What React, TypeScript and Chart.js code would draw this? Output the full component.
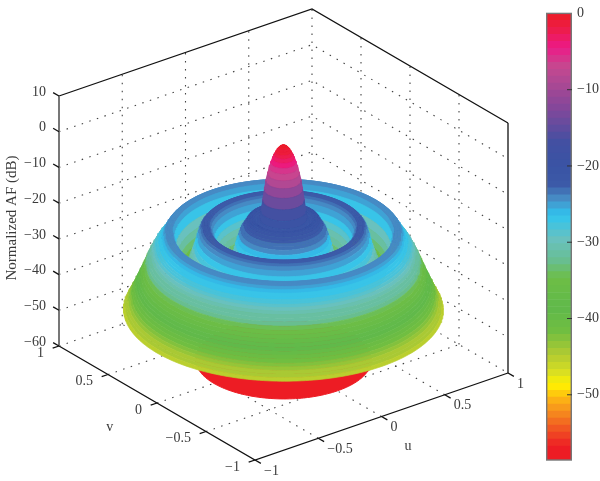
import React, { useEffect, useRef } from "react";
import { Chart, registerables } from "chart.js";

Chart.register(...registerables);

// Radial pattern: dB value at radius r = index * 0.01
const patternDb = [
  0, -0.1, -0.3, -0.7, -1.2, -1.9, -2.7, -3.7, -4.9, -6.3,
  -8, -10, -12.5, -15.5, -18.5, -20.5, -21.5, -21.5, -21, -20.5,
  -20.3, -20.3, -20.6, -21.2, -22, -22.6, -23.2, -24, -25.2, -26.5,
  -28, -29.5, -31, -32.5, -33.8, -34.8, -35.3, -35, -34, -32.6,
  -31, -29.4, -27.8, -26.2, -24.6, -23.6, -23, -22.7, -22.6, -22.6,
  -22.7, -23, -23.6, -24.6, -26, -27.6, -29, -30.2, -31.4, -32.5,
  -33.5, -34.3, -35, -35.5, -34.6, -33, -31, -28.6, -26, -24.6,
  -24.1, -24, -24, -24.2, -24.7, -25.4, -26.2, -27, -27.6, -28,
  -28.5, -29.2, -30, -30.8, -31.6, -32.4, -33.4, -34.4, -35.4, -36.4,
  -37.4, -38.3, -39.2, -40.1, -41, -42, -42.8, -43.6, -44.4, -45.2,
  -46,
];
const floorRadius = 0.55;

const zTicks = [10, 0, -10, -20, -30, -40, -50, -60];
const uvTicks = [-1, -0.5, 0, 0.5, 1];
const barTicks = [0, -10, -20, -30, -40, -50];
const barMin = -58.55;

const colorStopDb = [0, -2, -4.5, -7, -12.3, -17, -20, -22.5, -24.5, -26.5, -29.7, -32.3, -34.8, -38.7, -41.7, -44.7, -47, -48.7, -50.4, -52, -54.3, -56.9, -58.55];
const colorStopRgb = [
  [237, 28, 36], [237, 28, 70], [236, 26, 135], [198, 72, 143], [134, 71, 154], [66, 80, 162], [58, 83, 164], [60, 90, 168],
  [71, 145, 200], [47, 196, 239], [105, 193, 190], [104, 190, 150], [109, 190, 69], [96, 185, 75], [112, 190, 65], [176, 202, 50],
  [215, 222, 35], [255, 242, 0], [253, 185, 19], [247, 148, 29], [241, 90, 34], [237, 28, 36], [237, 28, 36],
];

const LEVELS = 64;
const ARC_STEPS = 120;
const FONT = "'Liberation Serif', serif";
const TEXT = "#3a3a3a";

function mapColor(db: number): string {
  const step = -barMin / LEVELS;
  const level = Math.min(LEVELS - 1, Math.max(0, Math.floor((db - barMin) / step)));
  const v = barMin + (level + 0.5) * step;
  let i = 0;
  while (i < colorStopDb.length - 2 && v < colorStopDb[i + 1]) i++;
  const t = (colorStopDb[i] - v) / (colorStopDb[i] - colorStopDb[i + 1]);
  const a = colorStopRgb[i];
  const b = colorStopRgb[i + 1];
  const c = a.map((x, k) => Math.round(x + (b[k] - x) * t));
  return `rgb(${c[0]},${c[1]},${c[2]})`;
}

// Orthographic view of the (u, v, dB) box onto the flat scales of the chart
function proj(u: number, v: number, z: number) {
  return {
    x: 255 + (u + 1) * 126.5 - (v + 1) * 98,
    y: 460 - (u + 1) * 43.5 - (v + 1) * 57 - (z + 60) * (250 / 70),
  };
}

const fmt = (n: number) => String(n).replace("-", "\u2212");

function buildDatasets() {
  const sets: any[] = [];
  const dotted = (a: number[], b: number[], c?: number[]) => {
    const pts = [a, b, ...(c ? [c] : [])].map((p) => proj(p[0], p[1], p[2]));
    sets.push({ data: pts, showLine: true, pointRadius: 0, borderColor: "#444", borderWidth: 1.1, borderDash: [1.5, 6.5] });
  };
  const solid = (a: number[], b: number[], color = "#111", width = 1.3, c?: number[]) => {
    const pts = [a, b, ...(c ? [c] : [])].map((p) => proj(p[0], p[1], p[2]));
    sets.push({ data: pts, showLine: true, pointRadius: 0, borderColor: color, borderWidth: width });
  };

  // back walls and floor
  for (const z of zTicks) {
    if (z !== 10) dotted([-1, 1, z], [1, 1, z], [1, -1, z]);
  }
  for (const t of uvTicks) {
    if (t > -1 && t < 1) {
      dotted([t, 1, -60], [t, 1, 10]);
      dotted([1, t, -60], [1, t, 10]);
      dotted([t, -1, -60], [t, 1, -60]);
      dotted([-1, t, -60], [1, t, -60]);
    }
  }
  dotted([1, 1, -60], [1, 1, 10]);

  // box frame
  solid([-1, 1, 10], [1, 1, 10], "#111", 1.3, [1, -1, 10]);
  solid([1, -1, 10], [1, -1, -60]);
  solid([-1, 1, -60], [-1, -1, -60], "#111", 1.3, [1, -1, -60]);
  solid([-1, 1, -60], [-1, 1, 10], "#777", 2);
  for (const z of zTicks) solid([-1, 1, z], [-1, 1.06, z]);
  for (const t of uvTicks) {
    solid([t, -1, -60], [t, -1.06, -60]);
    solid([-1, t, -60], [-1.05, t, -60]);
  }

  // floor disc
  const disc = [];
  for (let i = 0; i <= 180; i++) {
    const a = (i / 180) * 2 * Math.PI;
    disc.push(proj(floorRadius * Math.cos(a), floorRadius * Math.sin(a), -60));
  }
  sets.push({ data: disc, showLine: true, pointRadius: 0, borderColor: "#ed1c24", borderWidth: 1, backgroundColor: "#ed1c24", fill: "shape" });

  // surface of revolution: back half-bands from the rim inward, then front half-bands from the centre outward
  const gv = proj(0, 1, -60);
  const gu = proj(1, 0, -60);
  const o = proj(0, 0, -60);
  const phi0 = Math.atan2(-(gv.y - o.y), -(gu.y - o.y)); // angle (u,v) pointing straight back on the picture
  const arc = (r: number, z: number, from: number, to: number) => {
    const pts = [];
    for (let i = 0; i <= ARC_STEPS; i++) {
      const a = from + ((to - from) * i) / ARC_STEPS;
      pts.push(proj(r * Math.cos(a), r * Math.sin(a), z));
    }
    return pts;
  };
  const band = (i: number, from: number, to: number) => {
    const r0 = i * 0.01;
    const r1 = (i + 1) * 0.01;
    const z0 = patternDb[i];
    const z1 = patternDb[i + 1];
    const color = mapColor((z0 + z1) / 2);
    const outer = arc(r1, z1, from, to);
    const inner = arc(r0, z0, to, from);
    sets.push({
      data: [...outer, ...inner, outer[0]],
      showLine: true,
      pointRadius: 0,
      borderColor: color,
      borderWidth: 0.7,
      backgroundColor: color,
      fill: "shape",
    });
  };
  const last = patternDb.length - 2;
  for (let i = last; i >= 0; i--) band(i, phi0 - Math.PI / 2, phi0 + Math.PI / 2);
  for (let i = 0; i <= last; i++) band(i, phi0 + Math.PI / 2, phi0 + (3 * Math.PI) / 2);
  return sets.reverse();
}

const labelsPlugin = {
  id: "box3dLabels",
  afterDraw(chart: any) {
    const { ctx, scales } = chart;
    const X = (v: number) => scales.x.getPixelForValue(v);
    const Y = (v: number) => scales.y.getPixelForValue(v);
    ctx.save();
    ctx.fillStyle = TEXT;
    ctx.font = `14px ${FONT}`;
    ctx.textBaseline = "middle";
    ctx.textAlign = "right";
    for (const z of zTicks) {
      const p = proj(-1, 1, z);
      ctx.fillText(fmt(z), X(p.x) - 13, Y(p.y) - 4);
    }
    for (const t of uvTicks) {
      const p = proj(-1, t, -60);
      ctx.fillText(fmt(t), X(p.x) - 15, Y(p.y) + 7);
    }
    ctx.textAlign = "left";
    for (const t of uvTicks) {
      const p = proj(t, -1, -60);
      ctx.fillText(fmt(t), X(p.x) + 9, Y(p.y) + 11);
    }
    ctx.textAlign = "center";
    const uTitle = proj(-0.12, -1.426, -60);
    const vTitle = proj(-1.44, -0.0865, -60);
    ctx.fillText("u", X(uTitle.x), Y(uTitle.y));
    ctx.fillText("v", X(vTitle.x), Y(vTitle.y));
    ctx.font = `15px ${FONT}`;
    ctx.translate(12, 218);
    ctx.rotate(-Math.PI / 2);
    ctx.fillText("Normalized AF (dB)", 0, 0);
    ctx.restore();
  },
};

const barFramePlugin = {
  id: "barFrame",
  afterDraw(chart: any) {
    const { ctx, chartArea: a, scales } = chart;
    ctx.save();
    ctx.strokeStyle = "#777";
    ctx.lineWidth = 1.4;
    ctx.strokeRect(a.left + 0.7, a.top, a.right - a.left - 1.4, a.bottom - a.top);
    ctx.strokeStyle = "#333";
    ctx.lineWidth = 1;
    for (const t of barTicks) {
      const y = scales.y.getPixelForValue(t);
      if (t === 0) continue;
      ctx.beginPath();
      ctx.moveTo(a.right - 5, y);
      ctx.lineTo(a.right, y);
      ctx.stroke();
    }
    ctx.restore();
  },
};

export default function App() {
  const mainRef = useRef<HTMLCanvasElement>(null);
  const barRef = useRef<HTMLCanvasElement>(null);

  useEffect(() => {
    document.body.style.margin = "0";
    const main = new Chart(mainRef.current!, {
      type: "scatter",
      data: { datasets: buildDatasets() },
      plugins: [labelsPlugin],
      options: {
        animation: false,
        responsive: false,
        events: [],
        layout: { padding: 0 },
        plugins: { legend: { display: false }, tooltip: { enabled: false }, filler: { propagate: false } },
        scales: {
          x: { type: "linear", min: 0, max: 600, display: false },
          y: { type: "linear", min: 0, max: 481, reverse: true, display: false },
        },
      },
    } as any);

    const step = -barMin / LEVELS;
    const bands = Array.from({ length: LEVELS }, (_, i) => {
      const lo = barMin + i * step;
      return {
        data: [[lo, lo + step]],
        backgroundColor: mapColor(lo + step / 2),
        borderWidth: 0,
        barPercentage: 1,
        categoryPercentage: 1,
        grouped: false,
      };
    });
    const bar = new Chart(barRef.current!, {
      type: "bar",
      data: { labels: ["AF"], datasets: bands },
      plugins: [barFramePlugin],
      options: {
        animation: false,
        responsive: false,
        events: [],
        layout: { padding: { top: 7.5, bottom: 21, left: 0, right: 0 } },
        plugins: { legend: { display: false }, tooltip: { enabled: false } },
        scales: {
          x: { display: false },
          y: {
            position: "right",
            min: barMin,
            max: 0,
            afterBuildTicks: (s: any) => {
              s.ticks = barTicks.map((value) => ({ value }));
            },
            afterFit: (s: any) => {
              s.width = 28;
            },
            grid: { display: false, drawTicks: false },
            border: { display: false },
            ticks: {
              autoSkip: false,
              padding: 5,
              color: TEXT,
              font: { family: "'Liberation Serif', serif", size: 14 },
              callback: (v: any) => fmt(Number(v)),
            },
          },
        },
      },
    } as any);

    return () => {
      main.destroy();
      bar.destroy();
    };
  }, []);

  const soft = { position: "absolute" as const, top: 0, filter: "blur(0.5px)" };
  return (
    <div style={{ position: "relative", width: 600, height: 481, background: "#fff", overflow: "hidden" }}>
      <canvas ref={mainRef} width={600} height={481} style={{ ...soft, left: 0 }} />
      <canvas ref={barRef} width={54} height={481} style={{ ...soft, left: 546 }} />
    </div>
  );
}
